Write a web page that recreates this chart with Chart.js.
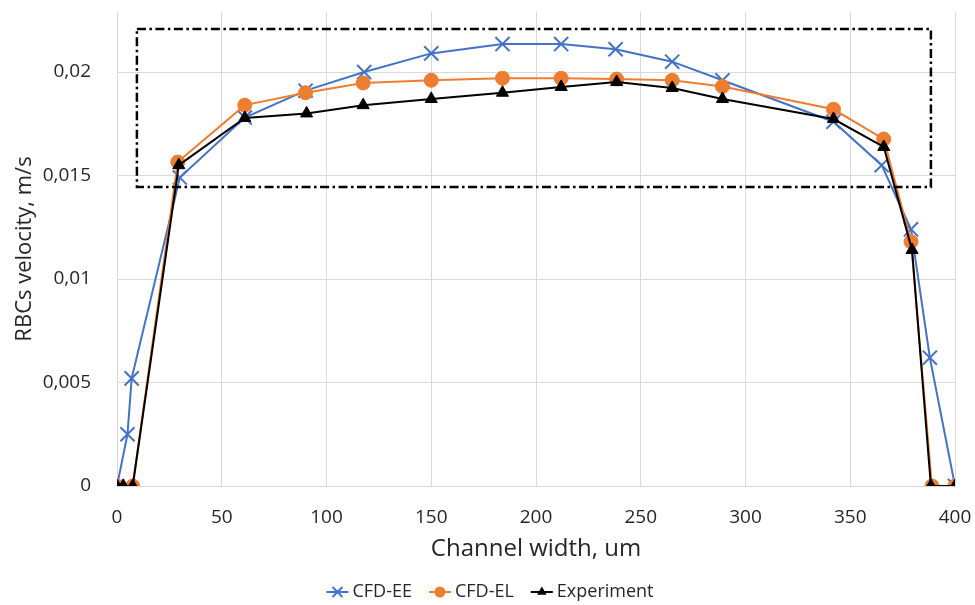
<!DOCTYPE html>
<html>
<head>
<meta charset="utf-8">
<script src="https://cdn.jsdelivr.net/npm/chart.js@4.4.1/dist/chart.umd.min.js"></script>
<style>
  html, body { margin: 0; padding: 0; background: #fff; }
  #wrap { width: 975px; height: 605px; }
</style>
</head>
<body>
<div id="wrap"><canvas id="c" width="975" height="605"></canvas></div>
<script>
// ---- data ----
const seriesNames = ['CFD-EE', 'CFD-EL', 'Experiment'];

const eeX = [0, 5, 7, 30, 61, 90, 118, 150, 184, 212, 238, 265, 289, 342, 365, 379, 388, 400];
const eeY = [0, 0.0025, 0.0052, 0.0149, 0.0178, 0.0191, 0.0200, 0.0209, 0.02135, 0.02135, 0.0211, 0.0205, 0.0196, 0.0176, 0.0155, 0.0124, 0.0062, 0];

const elX = [0, 7.5, 29, 61, 90, 117.5, 150, 184, 212, 238.5, 265, 289, 342, 366, 379, 389, 400];
const elY = [0, 0, 0.01565, 0.0184, 0.0190, 0.01947, 0.0196, 0.0197, 0.0197, 0.01966, 0.0196, 0.0193, 0.0182, 0.01676, 0.0118, 0, 0];

const exX = [0, 3, 7.5, 29.5, 61, 90.5, 117.5, 150, 184, 212, 238.5, 265, 289, 342, 366, 379.5, 388.5, 400];
const exY = [0, 0, 0, 0.0155, 0.01778, 0.0180, 0.0184, 0.0187, 0.0190, 0.01928, 0.01952, 0.01923, 0.0187, 0.01773, 0.01638, 0.0114, 0, 0];

const xTicks = [0, 50, 100, 150, 200, 250, 300, 350, 400];
const yTicks = [0, 0.005, 0.01, 0.015, 0.02];
const yTickLabels = ['0', '0,005', '0,01', '0,015', '0,02'];

// highlighted region (data units): [xFrom, xTo, yFrom, yTo]
const boxRegion = [9.5, 388.5, 0.01444, 0.02208];

const xTitle = 'Channel width, um';
const yTitle = 'RBCs velocity, m/s';

// ---- styling ----
const COLORS = ['#4472C4', '#ED7D31', '#000000'];
const FONT = '"Open Sans", "DejaVu Sans", sans-serif';
const TXT = '#262626';
const GRID = '#d9d9d9';

function pts(xs, ys) { return xs.map((x, i) => ({ x: x, y: ys[i] })); }

function drawMarker(ctx, style, x, y, r, color) {
  ctx.save();
  ctx.strokeStyle = color; ctx.fillStyle = color;
  if (style === 'crossRot') {
    ctx.lineWidth = 2;
    const d = r * Math.SQRT1_2;
    ctx.beginPath();
    ctx.moveTo(x - d, y - d); ctx.lineTo(x + d, y + d);
    ctx.moveTo(x + d, y - d); ctx.lineTo(x - d, y + d);
    ctx.stroke();
  } else if (style === 'circle') {
    ctx.beginPath(); ctx.arc(x, y, r, 0, Math.PI * 2); ctx.fill();
  } else if (style === 'triangle') {
    ctx.beginPath();
    for (let k = 0; k < 3; k++) {
      const a = -Math.PI / 2 + k * 2 * Math.PI / 3;
      const px = x + Math.cos(a) * r, py = y + Math.sin(a) * r;
      if (k === 0) ctx.moveTo(px, py); else ctx.lineTo(px, py);
    }
    ctx.closePath(); ctx.fill();
  }
  ctx.restore();
}

const pointStyles = ['crossRot', 'circle', 'triangle'];

const boxPlugin = {
  id: 'boxRegion',
  afterDatasetsDraw(chart) {
    const { ctx, scales: { x, y } } = chart;
    const x1 = x.getPixelForValue(boxRegion[0]);
    const x2 = x.getPixelForValue(boxRegion[1]);
    const y1 = y.getPixelForValue(boxRegion[3]);
    const y2 = y.getPixelForValue(boxRegion[2]);
    ctx.save();
    ctx.strokeStyle = '#000';
    ctx.lineWidth = 2.5;
    ctx.setLineDash([9, 3.5, 2.5, 3.5]);
    ctx.strokeRect(x1, y1, x2 - x1, y2 - y1);
    ctx.restore();
  }
};

const legendPlugin = {
  id: 'lineLegend',
  afterDraw(chart) {
    const ctx = chart.ctx;
    ctx.save();
    ctx.font = '18px ' + FONT;
    ctx.textBaseline = 'middle';
    const lineLen = 22, gapText = 4, gapItem = 17;
    const widths = seriesNames.map(n => ctx.measureText(n).width);
    let total = 0;
    widths.forEach((w, i) => { total += lineLen + gapText + w + (i < widths.length - 1 ? gapItem : 0); });
    let cx = 490 - total / 2;
    const cy = 592;
    seriesNames.forEach((n, i) => {
      ctx.strokeStyle = COLORS[i];
      ctx.lineWidth = 2;
      ctx.beginPath(); ctx.moveTo(cx, cy); ctx.lineTo(cx + lineLen, cy); ctx.stroke();
      drawMarker(ctx, pointStyles[i], cx + lineLen / 2, cy, i === 0 ? 7 : 5.5, COLORS[i]);
      ctx.fillStyle = TXT;
      ctx.fillText(n, cx + lineLen + gapText, cy);
      cx += lineLen + gapText + widths[i] + gapItem;
    });
    ctx.restore();
  }
};

const datasets = [
  { label: seriesNames[0], data: pts(eeX, eeY), borderColor: COLORS[0], backgroundColor: COLORS[0],
    borderWidth: 2, pointStyle: 'crossRot', pointRadius: 10, pointBorderWidth: 2, order: 2 },
  { label: seriesNames[1], data: pts(elX, elY), borderColor: COLORS[1], backgroundColor: COLORS[1],
    borderWidth: 2, pointStyle: 'circle', pointRadius: 7, pointBorderWidth: 1, order: 1 },
  { label: seriesNames[2], data: pts(exX, exY), borderColor: COLORS[2], backgroundColor: COLORS[2],
    borderWidth: 2, pointStyle: 'triangle', pointRadius: 7, pointBorderWidth: 1, order: 0 }
];

new Chart(document.getElementById('c'), {
  type: 'line',
  data: { datasets: datasets },
  options: {
    responsive: false,
    animation: false,
    devicePixelRatio: 1,
    layout: { padding: { left: 0, right: 20, top: 12, bottom: 41 } },
    elements: { line: { tension: 0 } },
    plugins: { legend: { display: false }, tooltip: { enabled: false } },
    scales: {
      x: {
        type: 'linear', min: 0, max: 400,
        afterBuildTicks(s) { s.ticks = xTicks.map(v => ({ value: v })); },
        afterFit(s) { s.height = 78; s.paddingLeft = 0; s.paddingRight = 0; },
        grid: { color: GRID, drawTicks: false },
        border: { color: GRID },
        ticks: { padding: 20, color: TXT, font: { family: FONT, size: 19 }, maxRotation: 0 },
        title: { display: true, text: xTitle, color: TXT, font: { family: FONT, size: 24 }, padding: 0 }
      },
      y: {
        type: 'linear', min: 0, max: 0.0229,
        afterBuildTicks(s) { s.ticks = yTicks.map(v => ({ value: v })); },
        afterFit(s) { s.width = 117; s.paddingTop = 0; s.paddingBottom = 0; },
        grid: { color: GRID, drawTicks: false },
        border: { color: GRID },
        ticks: {
          padding: 26, color: TXT, font: { family: FONT, size: 19 },
          callback(v) { const i = yTicks.findIndex(t => Math.abs(t - v) < 1e-9); return i >= 0 ? yTickLabels[i] : ''; }
        },
        title: { display: true, text: yTitle, color: TXT, font: { family: FONT, size: 22 }, padding: { top: 12, bottom: 0 } }
      }
    }
  },
  plugins: [boxPlugin, legendPlugin]
});
</script>
</body>
</html>
